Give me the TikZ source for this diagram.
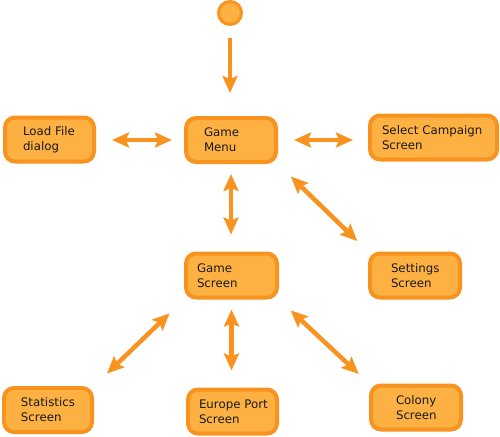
\documentclass[tikz,border=0pt]{standalone}
\usepackage{fontspec}
\setmainfont{DejaVu Sans}
\usetikzlibrary{arrows.meta}
\definecolor{boxfill}{HTML}{FDB142}
\definecolor{boxline}{HTML}{F7931E}
\definecolor{txt}{HTML}{1A1A1A}
\newcommand\twolines[3]{\hspace*{#1pt}#2\\\hspace*{#1pt}#3}
\tikzset{
  box/.style={draw=boxline, fill=boxfill, line width=4pt, rounded corners=10pt,
    minimum height=44pt, inner xsep=0pt, inner ysep=0pt, text width=#1pt, align=left,
    text=txt, font=\fontsize{11.8}{15}\selectfont},
  startdot/.style={circle, draw=boxline, fill=boxfill, line width=3pt, minimum size=23pt, inner sep=0pt},
  link/.style={draw=boxline, line width=4.5pt, {Stealth[length=17pt,width=15pt,inset=3pt]}-{Stealth[length=17pt,width=15pt,inset=3pt]}},
  flow/.style={draw=boxline, line width=4.5pt, -{Stealth[length=17pt,width=15pt,inset=3pt]}}
}
\begin{document}
\begin{tikzpicture}[x=1pt,y=-1pt]
\useasboundingbox (0,0) rectangle (500,436);
\node[startdot] (start) at (230,13) {};
\node[box=90] (gm) at (231,140) {\twolines{18}{Game}{Menu}};
\node[box=89] (lf) at (49.5,139.5) {\twolines{18}{Load File}{dialog}};
\node[box=127] (sc) at (433.5,137.5) {\twolines{12}{Select Campaign}{Screen}};
\node[box=91] (gs) at (231.5,275.5) {\twolines{11}{Game}{Screen}};
\node[box=90] (set) at (415,275.5) {\twolines{21}{Settings}{Screen}};
\node[box=88] (st) at (48,410) {\twolines{17}{Statistics}{Screen}};
\node[box=89] (ep) at (232.5,411.5) {\twolines{11}{Europe Port}{Screen}};
\node[box=90] (co) at (416,407.5) {\twolines{25}{Colony}{Screen}};

\draw[flow, shorten <=12pt, shorten >=23pt] (start.south) -- (start.south |- gm.north);
\draw[link, shorten <=12pt, shorten >=16pt] (gm.west) -- (gm.west -| lf.east);
\draw[link, shorten <=16pt, shorten >=15pt] (gm.east) -- (gm.east -| sc.west);
\draw[link, shorten <=10pt, shorten >=17pt] (gm.south) -- (gm.south |- gs.north);
\draw[link, shorten <=18pt, shorten >=15pt] (gm.south east) -- (set.north west);
\draw[link, shorten <=20pt, shorten >=18pt] (gs.south west) -- (st.north east);
\draw[link, shorten <=10pt, shorten >=17pt] (gs.south) -- (gs.south |- ep.north);
\draw[link, shorten <=16pt, shorten >=14pt] (gs.south east) -- (co.north west);
\end{tikzpicture}
\end{document}
